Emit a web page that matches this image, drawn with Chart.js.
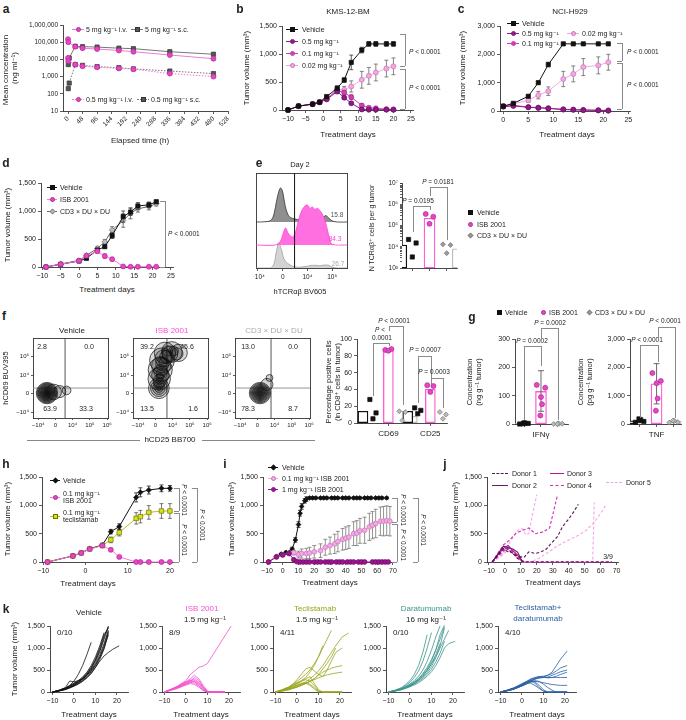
<!DOCTYPE html>
<html><head><meta charset="utf-8">
<script src="https://cdn.jsdelivr.net/npm/chart.js@4.4.1/dist/chart.umd.min.js"></script>
<style>
html,body{margin:0;padding:0;background:#fff}
body{position:relative;width:686px;height:720px;overflow:hidden;font-family:'Liberation Sans','DejaVu Sans',Arial,sans-serif;color:#222}
canvas{position:absolute}
.t{position:absolute;white-space:nowrap;line-height:1}
</style></head><body>
<script>
// ======================= DATA =======================
// a
const aTimeIV=[0.08,1,24,48,96,168,216,336,480];
const aTimeSC=[1,4,24,48,96,168,216,336,480];
const a5iv=[150000,100000,55000,45000,40000,33000,28000,18000,11000];
const a5sc=[5000,12000,58000,55000,52000,45000,42000,28000,20000];
const a05iv=[12000,8000,5000,4000,3500,3000,2700,1500,1000];
const a05sc=[200,420,5000,4500,3800,3300,2800,2100,1500];
const aXTicks=[0,48,96,144,192,240,288,336,384,432,480,528];
const aYTicks=[10,100,1000,10000,100000,1000000];
// shared ticks
const volTicks=[0,500,1000,1500];
const dayTicks=[-10,-5,0,5,10,15,20,25];
// b
const bDays=[-10,-7,-3,-1,1,4,6,8,11,13,15,18,20];
const bVeh=[0,70,105,140,240,390,535,850,1070,1180,1180,1180,1180];
const bVehErr=[0,8,10,12,20,40,40,130,50,40,40,40,40];
const b05=[0,70,105,140,190,330,220,120,10,5,5,5,5];
const b05Err=[0,8,10,12,15,30,30,20,5,3,3,3,3];
const b01=[0,70,105,140,200,350,310,230,80,40,30,15,10];
const b01Err=[0,8,10,12,20,40,40,40,30,20,20,10,10];
const b002=[0,70,105,140,200,370,360,420,540,610,670,740,780];
const b002Err=[0,8,10,12,20,40,60,100,150,150,150,150,150];
// c
const cDays=[0,2,5,7,9,12,14,16,19,21];
const cVeh=[170,270,520,1000,1640,2370,2370,2370,2370,2370];
const cVehErr=[20,30,40,50,80,30,30,30,30,30];
const c05=[150,180,130,110,90,50,40,30,20,10];
const c01=[170,200,140,120,100,60,50,40,30,20];
const c002=[170,250,380,560,700,1130,1310,1550,1610,1720];
const c002Err=[20,40,80,130,150,270,280,300,300,280];
const cYTicks=[0,1000,2000,3000];
// d
const dDays=[-9,-5,0,2,5,7,9,12,14,16,19,21];
const dVeh=[0,48,107,155,303,363,560,900,980,1090,1110,1165];
const dVehErr=[0,10,15,20,30,30,50,100,60,60,50,30];
const dISB=[0,50,110,200,280,195,140,10,5,5,5,5];
const dISBErr=[0,10,10,20,30,40,30,5,0,0,0,0];
const dCD3=[0,55,115,210,330,450,660,830,960,1040,1080,1130];
const dCD3Err=[0,10,15,20,40,40,60,120,100,60,60,40];
// e histogram (x in biexponential display units: -1=-10^4, 0=0, 1=10^4, 2=10^5)
const eHistTicks=[-1,0,1,2];
const eVehX=[-1.08,-0.6,-0.45,-0.35,-0.25,-0.15,-0.08,0,0.1,0.2,0.3,0.5,0.7,0.9,1.1,1.3,1.5,1.65,1.75,1.85,2.0,2.2,2.6];
const eVehH=[0,0.02,0.1,0.35,0.9,1.35,1.48,1.3,0.7,0.35,0.2,0.13,0.1,0.12,0.1,0.12,0.15,0.22,0.28,0.18,0.05,0,0];
const eIsbX=[-1.08,-0.3,-0.1,0.05,0.12,0.2,0.3,0.4,0.5,0.6,0.7,0.8,0.9,1.0,1.1,1.2,1.3,1.4,1.5,1.6,1.7,1.8,1.9,2.0,2.6];
const eIsbH=[0,0,0.15,0.6,0.74,0.55,0.4,0.35,0.5,0.9,1.3,1.55,1.7,1.74,1.6,1.65,1.55,1.6,1.5,1.35,1.1,0.7,0.25,0.03,0];
const eCd3X=[-1.08,-0.5,-0.35,-0.25,-0.16,-0.05,0.05,0.2,0.4,0.6,0.9,1.1,1.3,1.5,1.7,1.85,2.0,2.2,2.6];
const eCd3H=[0,0,0.2,0.75,1.09,0.8,0.4,0.2,0.08,0.03,0.06,0.1,0.12,0.1,0.13,0.12,0.04,0,0];
const eGate=0.48;
const ePct=['15.8','84.3','26.7'];
// e bars
const eGroups=['Vehicle','ISB 2001','CD3 × DU × DU'];
const eMeans=[12000,220000,8000];
const eVehPts=[22000,15000,3300];
const eIsbPts=[350000,260000,120000];
const eCd3Pts=[13000,12000,5000];
const eYTicks=[1e3,2e3,3e3,4e3,5e3,6e3,7e3,8e3,9e3,1e4,2e4,3e4,4e4,5e4,6e4,7e4,8e4,9e4,1e5,2e5,3e5,4e5,5e5,6e5,7e5,8e5,9e5,1e6,2e6,3e6,4e6,5e6,6e6,7e6,8e6,9e6,1e7];
// f contour levels (centre x, centre y, size) in display units
const fVehCX=[-0.49,-0.49,-0.49,-0.5,-0.5,-0.5,-0.5,-0.5,-0.5,-0.5,-0.5,-0.5,-0.5,-0.1,0.25,0.65];
const fVehCY=[0.04,0.04,0.04,0.04,0.03,0.03,0.03,0.02,0.02,0.02,0.02,0.02,0.02,0.1,0.12,0.18];
const fVehCS=[0.62,0.57,0.52,0.47,0.42,0.37,0.32,0.27,0.22,0.17,0.13,0.09,0.05,0.45,0.35,0.25];
const fIsbCX=[0.2,0.2,0.2,0.2,0.2,0.22,0.28,0.38,0.55,0.95,1.35,0.28,0.33,0.48,0.85,1.25,0.25,0.3,0.4,0.6,0.3,0.45,0.7,1.05,0.22,0.26];
const fIsbCY=[0.3,0.3,0.3,0.3,0.3,0.8,1.3,1.8,2.2,2.25,2.2,1.0,1.5,1.9,2.15,2.15,0.7,1.2,1.6,2.0,1.1,1.7,2.3,2.3,0.55,0.9];
const fIsbCS=[0.6,0.48,0.36,0.24,0.12,0.65,0.7,0.72,0.62,0.6,0.5,0.5,0.55,0.5,0.45,0.35,0.38,0.4,0.38,0.35,0.25,0.25,0.3,0.28,0.3,0.22];
const fCd3CX=[0.15,0.15,0.15,0.15,0.15,0.15,0.15,0.15,0.15,0.15,0.55,0.7];
const fCd3CY=[0.04,0.04,0.04,0.04,0.04,0.04,0.04,0.04,0.04,0.04,0.5,0.85];
const fCd3CS=[0.62,0.56,0.5,0.44,0.38,0.32,0.26,0.2,0.14,0.08,0.35,0.2];
const fGateX=[0.56,0.67,0.79];
const fGateY=[0.31,0.31,0.31];
const fQuad=[['2.8','0.0','63.9','33.3'],['39.2','45.6','13.5','1.6'],['13.0','0.0','78.3','8.7']];
const fTitles=['Vehicle','ISB 2001','CD3 × DU × DU'];
const bexTicks=[-1,0,1,2,3];
// f bars (% positive)
const fMarkers=['CD69','CD25'];
const fVehMean=[14,14], fIsbMean=[87,40], fCd3Mean=[8,10];
const fVehPts=[[28,12,5],[18,15,11]];
const fIsbPts=[[87,88,86],[45,44,37]];
const fCd3Pts=[[14,13,3],[13,10,5]];
// g cytokines
const gIFN=[2,115,1], gIFNErr=[0,[70,73],0];
const gIFNVeh=[0,2,4,3,1], gIFNIsb=[138,128,95,70,30], gIFNCd3=[0,1,2,1,0];
const gTNF=[110,1420,90], gTNFErr=[30,710,30];
const gTNFVeh=[60,90,120,150,180], gTNFIsb=[1800,1520,1440,900,470], gTNFCd3=[50,70,100,110,120];
// h
const hDays=[-9,-3,-1,1,4,6,8,12,13,15,18,20];
const hVeh=[0,107,160,235,300,535,625,1140,1230,1270,1300,1300];
const hVehErr=[0,10,15,20,30,40,50,80,80,70,60,50];
const hISB=[0,107,160,230,290,215,90,0,0,0,0,0];
const hISBErr=[0,10,10,20,30,30,20,0,0,0,0,0];
const hTec=[0,107,160,230,290,390,520,770,800,875,900,900];
const hTecErr=[0,10,10,20,30,50,60,100,110,120,130,130];
// i
const iVehDays=[-9,-4,-1,2,6,8,10,11,12,14,15,17,19,21,24,26,28,31,33,35,38,40,42,45,47,49,52,54,56,59,61,63,66];
const iVeh=[0,100,140,170,230,390,660,860,980,1080,1110,1130,1130,1130,1130,1130,1130,1130,1130,1130,1130,1130,1130,1130,1130,1130,1130,1130,1130,1130,1130,1130,1130];
const iVehErr=[0,10,15,20,30,40,50,50,50,40,40,20,20,20,20,20,20,20,20,20,20,20,20,20,20,20,20,20,20,20,20,20,20];
const i01Days=[-9,-4,0,4,7,10,12,15,17,20,24,27,30,33,35,38,40,42,45,47,49,52,55,57,59,62,64,66,68];
const i01=[0,90,125,150,165,130,150,150,160,180,200,260,290,320,360,400,420,440,500,510,550,560,620,650,680,720,720,730,720];
const i01Err=[0,10,20,30,40,60,80,90,100,110,120,140,150,170,180,190,200,200,210,220,220,230,240,240,250,250,260,260,260];
const i1Days=[-9,-4,0,4,7,9,11,13,15,17,20,22,24,27,29,31,34,36,38,41,43,45,48,50,52,57,59,61,63,65,67];
const i1=[0,90,125,150,40,5,0,0,0,0,0,0,0,0,0,0,0,0,0,0,0,0,0,0,0,0,0,0,0,0,0];
const iXTicks=[-10,0,10,20,30,40,50,60,70];
// j (individual mice per donor)
const jD1aDays=[-8,-1,2,5,8,12,15,19,22,26,29,33,36,40,43,46], jD1a=[0,230,180,160,100,80,180,150,170,230,330,450,620,760,880,1020];
const jD1bDays=[-8,-1,2,5,8,12,20,30,40,50,60,67], jD1b=[0,250,220,150,60,0,0,0,0,0,0,0];
const jD2Days=[-8,-1,2,5,8,11], jD2=[0,280,250,230,170,0];
const jD3Days=[-8,-1,2,5,8,11], jD3=[0,240,290,200,120,0];
const jD4aDays=[-8,-1,3,7,11,15,19,24,28,33], jD4a=[0,300,390,510,560,600,500,530,600,1190];
const jD4bDays=[-8,-1,2,5,8,12,20,30,40,50,60,67], jD4b=[0,200,250,180,80,0,0,0,0,0,0,0];
const jD5aDays=[-8,-1,2,5,8,11,13,15,17,20], jD5a=[0,150,300,430,560,590,480,500,800,1190];
const jD5bDays=[-8,-1,2,5,8,11,16,21,26,31,36,41,46,51,56,61,63], jD5b=[0,130,220,150,60,0,0,60,150,250,330,400,470,560,700,900,1000];
const jD5cDays=[-8,-1,2,5,8,11,20,30,40,50,55,56], jD5c=[0,170,260,190,90,0,0,0,0,0,0,1050];
// k spaghetti plots
const kDays=[-10,-7,-4,-2,0,2,4,6,8,10,12,14,16,18,21,24];
const kTicksX=[-10,0,10,20];
const kVehicle=[
 [0,40,90,150,250,400,600,850,1130],
 [0,40,100,250,230,260,300,400,550,750,1000,1300,1450],
 [0,30,80,130,180,240,320,430,560,720,950,1250,1500],
 [0,30,70,120,170,220,290,380,500,650,850,1100,1400],
 [0,35,90,140,200,260,340,450,600,800,1050,1350],
 [0,25,60,100,150,200,270,350,460,600,780,1000,1300],
 [0,30,75,110,160,220,300,400,520,700,920,1200,1480],
 [0,20,55,90,130,180,240,320,420,560,740,980,1350],
 [0,30,80,140,200,240,300,380,480,620,800,1050,1380],
 [0,25,60,100,140,190,250,330,430,560,700,820,900,970,1050]];
const kISB=[
 [0,60,120,180,230,300,380,300,150,20,0,0,0,0],
 [0,50,110,160,200,250,330,260,120,10,0,0,0,0],
 [0,60,120,170,220,260,290,220,100,0,0,0,0,0],
 [0,50,100,140,190,230,260,200,90,0,0,0,0,0],
 [0,40,90,130,170,210,240,180,70,0,0,0,0,0],
 [0,60,130,180,230,270,230,150,50,0,0,0,0,0],
 [0,50,100,150,190,220,200,130,40,0,0,0,0,0],
 [0,40,80,120,160,190,170,110,30,0,0,0,0,0],
 [0,60,130,200,260,400,480,560,590,650,null,null,null,null,1500]];
const kTec=[
 [0,40,90,140,190,250,330,450,600,800,1000,1200,1400],
 [0,30,70,100,140,180,230,300,380,480,600,750,900,1050,1250,1340],
 [0,50,110,170,240,320,400,500,640,800,1050],
 [0,30,60,90,120,160,200,250,300,380,450,500,540,570,600],
 [0,20,50,80,110,150,190,240,280,320,360,390,410,430,450],
 [0,40,100,180,280,400,520,560,480,400,350,500,700,900,1000],
 [0,40,90,140,190,240,280,250,150,30,0,0,0,0,0],
 [0,30,80,120,160,200,220,180,100,10,0,0,0,0,0],
 [0,30,70,110,150,180,200,150,70,0,0,0,0,0,0],
 [0,50,110,160,210,260,300,350,200,50,0,0,0,0,0],
 [0,20,50,80,110,150,190,240,300,400,520,650,800,1000]];
const kDara=[
 [0,40,100,170,260,400,600,900,1300],
 [0,35,90,150,220,330,480,700,1000,1350],
 [0,30,70,120,180,260,360,500,700,950,1250,1500],
 [0,30,70,110,160,220,300,400,520,700,950,1300,1520],
 [0,25,60,100,140,190,260,340,440,580,780,1050,1450],
 [0,30,70,110,150,200,270,360,480,640,850,1100],
 [0,25,55,90,130,180,240,310,400,520,680,880,1150],
 [0,20,50,80,120,160,210,280,360,460,600,780,1000,1100,1150],
 [0,30,70,120,170,230,310,420,560,740,960,1200,1480],
 [0,25,60,100,140,200,280,380,500,650,800,1000,1200,1400]];
const kCombo=[
 [0,30,70,110,150,200,260,300,330,340,380,450,600,750,930],
 [0,35,80,120,170,220,270,320,350,360,380,420,480,550,600],
 [0,25,60,100,140,190,240,290,320,330,340,380,420,460,500],
 [0,40,90,130,180,230,300,330,350,340,320,330,360,400,450],
 [0,30,80,120,160,210,260,300,320,330,330,330,330,330,330],
 [0,30,60,100,140,180,220,240,230,210,190,170,160,150,150],
 [0,40,90,140,190,240,280,200,100,20,0,0,0,0,0],
 [0,30,70,110,160,210,250,230,150,50,0,0,0,0,0],
 [0,35,80,120,170,220,200,150,80,20,0,0,0,0,0],
 [0,25,60,100,140,180,230,260,240,180,100,40,0,0,0]];
const kFractions=['0/10','8/9','4/11','0/10','4/10'];

// ======================= STYLE / HELPERS =======================
const PINK='#e645c3',PINKD='#b22b96',PINKL='#ff72da',PURP='#8e1a88',MAG='#d23fb4',LPINK='#efabdf',LPINKB='#cf6fbd',
      YEL='#d8e21c',OLIVE='#9aa41d',TEAL='#3c948b',BLUE='#2b5fa5';
const SUP={'-':'⁻','0':'⁰','1':'¹','2':'²','3':'³','4':'⁴','5':'⁵','6':'⁶','7':'⁷','8':'⁸','9':'⁹'};
const pow10=v=>{const e=Math.round(Math.log10(v));return Math.abs(Math.log10(v)-e)<1e-9?'10'+String(e).split('').map(c=>SUP[c]).join(''):'';};
const comma=v=>String(v).replace(/\B(?=(\d{3})+(?!\d))/g,',');
const neg=v=>v<0?'−'+(-v):String(v);
const BEX={'-1':'−10⁴','0':'0','1':'10⁴','2':'10⁵','3':'10⁶'};
const bex=v=>BEX[String(v)]||'';
const J3=[-0.22,0.22,0], J5=[-0.25,0.25,0,0.06,-0.04];

function drawErr(chart,i){
  const ds=chart.data.datasets[i],meta=chart.getDatasetMeta(i);
  const ys=chart.scales[meta.yAxisID],ctx=chart.ctx,cap=ds.errCap??2;
  ctx.save();ctx.strokeStyle=ds.errColor||'#444';ctx.lineWidth=0.8;ctx.beginPath();
  meta.data.forEach((el,j)=>{
    const e=ds.err[j];if(!e)return;const v=ds.data[j].y;if(v==null)return;
    const lo=Array.isArray(e)?e[0]:e,hi=Array.isArray(e)?e[1]:e;
    const y1=ys.getPixelForValue(v+hi),y2=ys.getPixelForValue(Math.max(v-lo,ys.min));
    ctx.moveTo(el.x,y1);ctx.lineTo(el.x,y2);ctx.moveTo(el.x-cap,y1);ctx.lineTo(el.x+cap,y1);
    if(v-lo>ys.min){ctx.moveTo(el.x-cap,y2);ctx.lineTo(el.x+cap,y2);}
  });
  ctx.stroke();ctx.restore();
}
Chart.register({id:'errbars',
  beforeDatasetDraw(c,a){const ds=c.data.datasets[a.index];if(ds.err&&!ds.errAfter)drawErr(c,a.index);},
  afterDatasetDraw(c,a){const ds=c.data.datasets[a.index];if(ds.err&&ds.errAfter)drawErr(c,a.index);}});

function ax(pos,min,max,ticks,fmt,o={}){
  return {type:o.type||'linear',position:pos,min,max,offset:false,display:true,
    grid:{display:true,offset:false,drawOnChartArea:false,drawTicks:!!ticks,tickLength:o.tl??3,color:o.c||'#333',lineWidth:0.8},
    border:{display:true,color:o.c||'#333',width:o.bw||0.9},
    ticks:{display:!!ticks&&!o.noLab,autoSkip:false,maxRotation:o.rot||0,minRotation:o.rot||0,padding:o.pad??2,
      font:{size:o.fs||7},color:o.tc||'#222',callback:(v,i)=>fmt?fmt(v,i):v},
    afterBuildTicks:s=>{s.ticks=(ticks||[]).map(v=>({value:v}));}};
}
function mk(box,scales,datasets,o={}){
  const [L,T,R,B]=box,ml=o.ml??30,mb=o.mb??14,mt=o.mt??6,mr=o.mr??8;
  const W=ml+(R-L)+mr,H=mt+(B-T)+mb;
  const c=document.createElement('canvas');c.width=W;c.height=H;
  c.style.left=(L-ml)+'px';c.style.top=(T-mt)+'px';c.style.width=W+'px';c.style.height=H+'px';
  document.body.appendChild(c);
  for(const k in scales){const size=k==='x'?mb:(k==='y'?ml:0);
    scales[k].afterFit=s=>{if(s.isHorizontal())s.height=size;else s.width=size;s.paddingLeft=0;s.paddingRight=0;s.paddingTop=0;s.paddingBottom=0;};}
  return new Chart(c,{type:'scatter',data:{datasets},options:{responsive:false,maintainAspectRatio:false,animation:false,devicePixelRatio:1,events:[],
    layout:{padding:{top:mt,right:mr,left:0,bottom:0}},plugins:{legend:{display:false},tooltip:{enabled:false}},scales}});
}
function S(xs,ys,o={}){
  return {type:'line',data:ys.map((y,i)=>({x:xs[i],y:y===undefined?null:y})),borderColor:o.lc,borderWidth:o.lw??1,borderDash:o.dash||[],
    backgroundColor:o.mf,pointBackgroundColor:o.mf,pointBorderColor:o.mb||o.lc,pointBorderWidth:o.pbw??0.7,pointStyle:o.ps||'circle',
    pointRadius:o.r??2.5,showLine:!o.noLine,err:o.err,errColor:o.ec,errCap:o.cap,clip:false,order:o.order??0,spanGaps:true,tension:o.ten||0,fill:false};
}
function Bar(xs,ys,o={}){
  return {type:'bar',data:ys.map((y,i)=>({x:xs[i],y})),backgroundColor:o.fc||'#fff',borderColor:o.bc,borderWidth:o.bw??1.3,barThickness:o.w??10,
    borderSkipped:false,err:o.err,errColor:o.ec,errCap:o.cap??3,errAfter:true,order:10};
}
function Pts(xc,ys,jit,o){return S(ys.map((_,i)=>xc+jit[i%jit.length]),ys,Object.assign({noLine:true,order:0},o));}
function div(){const d=document.createElement('div');d.style.position='absolute';document.body.appendChild(d);return d;}
function T(s,x,y,o={}){
  const d=document.createElement('div');d.className='t';d.innerHTML=s;
  const a=o.al==='l'?0:(o.al==='r'?-100:-50);
  d.style.left=x+'px';d.style.top=y+'px';d.style.fontSize=(o.fs||7)+'px';d.style.color=o.c||'#222';
  if(o.b)d.style.fontWeight='bold';
  d.style.transform=`translate(${a}%,-50%)`+(o.rot?` rotate(${o.rot}deg)`:'');
  document.body.appendChild(d);return d;
}
function ln(x1,y1,x2,y2,c='#8a8a8a',w=0.8){const d=div();
  d.style.left=Math.min(x1,x2)+'px';d.style.top=Math.min(y1,y2)+'px';
  d.style.width=Math.max(Math.abs(x2-x1),w)+'px';d.style.height=Math.max(Math.abs(y2-y1),w)+'px';d.style.background=c;}
function vbr(x,y1,y2,t=5){ln(x,y1,x,y2);ln(x-t,y1,x,y1);ln(x-t,y2,x,y2);}
function hbr(x1,x2,y,yl,yr){ln(x1,y,x2,y);ln(x1,y,x1,yl);ln(x2,y,x2,yr);}
function leg(x,y,text,o={}){
  const hl=o.ll??6;
  if(o.lc){const d=div();d.style.left=(x-hl)+'px';d.style.top=(y-0.5)+'px';d.style.width=(2*hl)+'px';d.style.height='0';
    d.style.borderTop=`${o.lw||1}px ${o.dash||'solid'} ${o.lc}`;}
  if(o.m){const s=o.ms||5,d=div();d.style.left=(x-s/2)+'px';d.style.top=(y-s/2)+'px';d.style.width=s+'px';d.style.height=s+'px';
    d.style.boxSizing='border-box';d.style.background=o.mf||'#111';d.style.border=`0.8px solid ${o.mb||o.mf||'#111'}`;
    if(o.m==='c')d.style.borderRadius='50%';if(o.m==='d')d.style.transform='rotate(45deg) scale(0.85)';}
  T(text,x+(o.tx??hl+3),y,{al:'l',fs:o.fs||7,c:o.tc});
}
const P='<i>P</i>';

// ======================= PANEL a =======================
T('a',6,9,{b:1,fs:12});
mk([63,25,228,111],{
  x:ax('bottom',-16.5,528,aXTicks,v=>String(v),{rot:45,fs:6.5,pad:1}),
  y:ax('left',10,1e6,aYTicks,comma,{type:'logarithmic',fs:6.5})
},[
  S(aTimeIV,a5iv,{lc:'#f07ad4',mf:PINK,mb:PINKD}),
  S(aTimeIV,a05iv,{lc:'#f07ad4',mf:PINK,mb:PINKD,dash:[1.5,1.5]}),
  S(aTimeSC,a5sc,{lc:'#777',mf:'#555',mb:'#333',ps:'rect',r:3}),
  S(aTimeSC,a05sc,{lc:'#777',mf:'#555',mb:'#333',ps:'rect',r:3,dash:[1.5,1.5]})
],{ml:63,mb:30,mr:12});
T('Mean concentration',6,70,{rot:-90,fs:8});
T('(ng ml⁻¹)',15,68,{rot:-90,fs:8});
T('Elapsed time (h)',140,141,{fs:8});
leg(78,29,'5 mg kg⁻¹ i.v.',{lc:'#f07ad4',m:'c',mf:PINK,mb:PINKD,tx:8});
leg(137,29,'5 mg kg⁻¹ s.c.',{lc:'#777',m:'s',mf:'#555',mb:'#333',tx:8});
leg(78,99,'0.5 mg kg⁻¹ i.v.',{lc:'#f07ad4',dash:'dotted',m:'c',mf:PINK,mb:PINKD,tx:8});
leg(143,99,'0.5 mg kg⁻¹ s.c.',{lc:'#777',dash:'dotted',m:'s',mf:'#555',mb:'#333',tx:8});

// ======================= PANEL b =======================
T('b',240,9,{b:1,fs:12});
mk([282,26,413,110],{
  x:ax('bottom',-11.71,25.57,dayTicks,neg),
  y:ax('left',0,1500,volTicks,comma)
},[
  S(bDays,bVeh,{lc:'#111',mf:'#111',ps:'rect',r:3,err:bVehErr,ec:'#333'}),
  S(bDays,b05,{lc:PURP,mf:PURP,mb:'#5e0f5a',err:b05Err,ec:'#555'}),
  S(bDays,b01,{lc:MAG,mf:MAG,mb:'#a02a88',err:b01Err,ec:'#555'}),
  S(bDays,b002,{lc:LPINK,mf:LPINK,mb:LPINKB,err:b002Err,ec:'#666'})
],{ml:30,mb:14});
T('KMS-12-BM',348,12,{fs:8});
T('Tumor volume (mm³)',247,68,{rot:-90,fs:8});
T('Treatment days',348,135,{fs:8});
leg(292,29,'Vehicle',{lc:'#111',m:'s',mf:'#111',tx:10});
leg(292,41,'0.5 mg kg⁻¹',{lc:PURP,m:'c',mf:PURP,tx:10});
leg(292,53,'0.1 mg kg⁻¹',{lc:MAG,m:'c',mf:MAG,tx:10});
leg(292,65,'0.02 mg kg⁻¹',{lc:LPINK,m:'c',mf:LPINK,mb:LPINKB,tx:10});
vbr(405,34,66);vbr(405,69,109);
T(P+' &lt; 0.0001',409,52,{al:'l',fs:6.5});
T(P+' &lt; 0.0001',409,88,{al:'l',fs:6.5});

// ======================= PANEL c =======================
T('c',461,9,{b:1,fs:12});
mk([500,26,630,111],{
  x:ax('bottom',-0.66,25.34,[0,5,10,15,20,25],neg),
  y:ax('left',0,3000,cYTicks,comma)
},[
  S(cDays,cVeh,{lc:'#111',mf:'#111',ps:'rect',r:3,err:cVehErr,ec:'#333'}),
  S(cDays,c05,{lc:PURP,mf:PURP,mb:'#5e0f5a'}),
  S(cDays,c01,{lc:MAG,mf:MAG,mb:'#a02a88'}),
  S(cDays,c002,{lc:LPINK,mf:LPINK,mb:LPINKB,err:c002Err,ec:'#666'})
],{ml:30,mb:14});
T('NCI-H929',570,12,{fs:8});
T('Tumor volume (mm³)',463,68,{rot:-90,fs:8});
T('Treatment days',567,135,{fs:8});
leg(513,23,'Vehicle',{lc:'#111',m:'s',mf:'#111',tx:9});
leg(513,33,'0.5 mg kg⁻¹',{lc:PURP,m:'c',mf:PURP,tx:9});
leg(513,43,'0.1 mg kg⁻¹',{lc:MAG,m:'c',mf:MAG,tx:9});
leg(573,33,'0.02 mg kg⁻¹',{lc:LPINK,m:'c',mf:LPINK,mb:LPINKB,tx:9});
vbr(622,43,61);vbr(622,63,109);
T(P+' &lt; 0.0001',627,52,{al:'l',fs:6.5});
T(P+' &lt; 0.0001',627,85,{al:'l',fs:6.5});

// ======================= PANEL d =======================
T('d',6,163,{b:1,fs:12});
mk([41,183,173,267],{
  x:ax('bottom',-10.35,25.55,dayTicks,neg),
  y:ax('left',0,1500,volTicks,comma)
},[
  S(dDays,dISB,{lc:PINKL,mf:PINK,mb:PINKD,err:dISBErr,ec:'#777'}),
  S(dDays,dVeh,{lc:'#111',mf:'#111',ps:'rect',r:3,err:dVehErr,ec:'#333'}),
  S(dDays,dCD3,{lc:'#666',mf:'#bbb',mb:'#666',ps:'rectRot',r:2.8,err:dCD3Err,ec:'#555'})
],{ml:30,mb:14});
T('Tumor volume (mm³)',8,225,{rot:-90,fs:8});
T('Treatment days',107,290,{fs:8});
leg(52,187,'Vehicle',{lc:'#111',m:'s',mf:'#111',ll:5,tx:8});
leg(52,199,'ISB 2001',{lc:PINKL,m:'c',mf:PINK,mb:PINKD,ll:5,tx:8});
leg(52,211,'CD3 × DU × DU',{lc:'#666',m:'d',mf:'#bbb',mb:'#666',ll:5,tx:8});
vbr(165,201,267);
T(P+' &lt; 0.0001',168,234,{al:'l',fs:6.5});

// ======================= PANEL e =======================
T('e',259,163,{b:1,fs:12});
const hist=(xs,hs,off,fc,bc)=>({type:'line',data:hs.map((h,i)=>({x:xs[i],y:off+h})),fill:{value:off},backgroundColor:fc,borderColor:bc,
  borderWidth:0.8,pointRadius:0,tension:0.35,clip:true,order:0});
mk([256,173,347,268],{
  x:ax('bottom',-1.08,2.6,eHistTicks,bex,{fs:6.5}),
  y:ax('left',0,4.13,null,null),
  x2:ax('top',-1.08,2.6,null,null),
  y2:ax('right',0,4.13,null,null)
},[
  {type:'line',data:[{x:eGate,y:0},{x:eGate,y:4.13}],borderColor:'#111',borderWidth:1,pointRadius:0,order:-1},
  hist(eIsbX,eIsbH,1,'#ff6fe0','#ff3fd2'),
  hist(eCd3X,eCd3H,0,'#d3d3d3','#a0a0a0'),
  hist(eVehX,eVehH,2,'#8f8f8f','#333')
],{ml:2,mb:14,mt:4,mr:6});
T('Day 2',300,165,{fs:7.5});
T('hTCRαβ BV605',300,292,{fs:7.5});
T(ePct[0],337,215,{fs:6.5,c:'#555'});
T(ePct[1],335,239,{fs:6.5,c:'#ff3fd2'});
T(ePct[2],338,264,{fs:6.5,c:'#aaa'});
mk([402,183,457,268],{
  x:ax('bottom',-0.6,2.6,[0,1,2],()=>''),
  y:ax('left',1e3,1e7,eYTicks,pow10,{type:'logarithmic',fs:6.5,tl:2})
},[
  Pts(0,eVehPts,J3,{mf:'#111',mb:'#111',ps:'rect',r:3}),
  Pts(1,eIsbPts,J3,{mf:PINK,mb:PINKD}),
  Pts(2,eCd3Pts,J3,{mf:'#999',mb:'#777',ps:'rectRot',r:2.5}),
  Bar([0],[eMeans[0]],{bc:'#111',w:11}),
  Bar([1],[eMeans[1]],{bc:'#ff5ad6',w:11}),
  Bar([2],[eMeans[2]],{bc:'#bdbdbd',w:11})
],{ml:20,mb:10});
T('N TCRαβ⁺ cells per g tumor',371,228,{rot:-90,fs:7});
hbr(413,430,206,232,210);T(P+' = 0.0195',418,201,{fs:6.5});
hbr(430,447,187,196,240);T(P+' = 0.0181',438,182,{fs:6.5});
leg(470,212,eGroups[0],{m:'s',mf:'#111',tx:7});
leg(470,224,eGroups[1],{m:'c',mf:PINK,mb:PINKD,tx:7});
leg(470,235,eGroups[2],{m:'d',mf:'#999',mb:'#777',tx:7});

// ======================= PANEL f =======================
T('f',4,316,{b:1,fs:12});
const ring=(cx,cy,cs)=>({type:'scatter',data:cx.map((x,i)=>({x,y:cy[i],s:cs[i]})),pointStyle:'circle',
  pointBackgroundColor:'rgba(0,0,0,0.16)',pointBorderColor:'#111',pointBorderWidth:0.7,clip:true,order:1,
  pointRadius:ctx=>{const sc=ctx.chart.scales.x,r=ctx.raw&&ctx.raw.s;return r?Math.abs(sc.getPixelForValue(r)-sc.getPixelForValue(0)):0;}});
const FX0=-1.3,FX1=3.05,FY0=-1.3,FY1=3.0;
const contourSets=[[fVehCX,fVehCY,fVehCS],[fIsbCX,fIsbCY,fIsbCS],[fCd3CX,fCd3CY,fCd3CS]];
const fLefts=[33,133,235];
const fTitleCol=['#222','#ff4fd3','#aaa'];
const quadPos=[[[9,56],[17,53]],[[14,54],[14,60]],[[13,58],[13,58]]];
fLefts.forEach((L,p)=>{
  const [cx,cy,cs]=contourSets[p];
  mk([L,338,L+75,418],{
    x:ax('bottom',FX0,FX1,bexTicks,bex,{fs:6,tl:2}),
    y:ax('left',FY0,FY1,bexTicks.slice(0,4),bex,{fs:6,tl:2}),
    x2:ax('top',FX0,FX1,null,null),
    y2:ax('right',FY0,FY1,null,null)
  },[
    {type:'line',data:[{x:fGateX[p],y:FY0},{x:fGateX[p],y:FY1}],borderColor:'#444',borderWidth:0.9,pointRadius:0,order:2},
    {type:'line',data:[{x:FX0,y:fGateY[p]},{x:FX1,y:fGateY[p]}],borderColor:'#888',borderWidth:0.9,pointRadius:0,order:2},
    ring(cx,cy,cs)
  ],{ml:18,mb:12,mt:4,mr:5});
  T(fTitles[p],L+39,331,{fs:8,c:fTitleCol[p]});
  const q=fQuad[p],qp=quadPos[p];
  T(q[0],L+qp[0][0],346,{fs:7});T(q[1],L+qp[0][1],346,{fs:7});
  T(q[2],L+qp[1][0],408,{fs:7});T(q[3],L+qp[1][1],408,{fs:7});
});
T('hCD69 BUV395',6,378,{rot:-90,fs:7.5});
ln(27,440,140,440,'#888');ln(202,440,315,440,'#888');
T('hCD25 BB700',170,440,{fs:8});
// f bars
const fPos=[[0,1.1,2.1],[3.2,4.1,5]];
const fDs=[];
fPos.forEach((g,m)=>{
  fDs.push(Pts(g[0],fVehPts[m],J3,{mf:'#111',mb:'#111',ps:'rect',r:3}));
  fDs.push(Pts(g[1],fIsbPts[m],J3,{mf:PINK,mb:PINKD}));
  fDs.push(Pts(g[2],fCd3Pts[m],J3,{mf:'#bbb',mb:'#777',ps:'rectRot',r:2.5}));
});
fDs.push(Bar([fPos[0][0],fPos[1][0]],fVehMean,{bc:'#111',w:10}));
fDs.push(Bar([fPos[0][1],fPos[1][1]],fIsbMean,{bc:'#ff5ad6',w:10}));
fDs.push(Bar([fPos[0][2],fPos[1][2]],fCd3Mean,{bc:'#bdbdbd',w:10}));
mk([357,339,447,423],{
  x:ax('bottom',-1.14,5.29,[1.1,4.1],(v,i)=>fMarkers[i],{fs:8,pad:3}),
  y:ax('left',0,100,[0,20,40,60,80,100],comma)
},fDs,{ml:22,mb:18});
T('Percentage positive cells',329,382,{rot:-90,fs:7.5});
T('(in CD8⁺ cells in tumor)',338,382,{rot:-90,fs:7.5});
hbr(389,403,326,331,405);T(P+' &lt; 0.0001',394,321,{fs:6.5});
hbr(373,389,343,396,346);T(P+' &lt;',380,330,{fs:6.5});T('0.0001',382,337.5,{fs:6.5});
hbr(418,431,356,403,380);T(P+' = 0.0007',425,350,{fs:6.5});
hbr(431,443,378,384,408);T(P+' = 0.0003',434,372,{fs:6.5});

// ======================= PANEL g =======================
T('g',472,317,{b:1,fs:12});
leg(499,312,'Vehicle',{m:'s',mf:'#111',tx:6});
leg(543,312,'ISB 2001',{m:'c',mf:PINK,mb:PINKD,tx:6});
leg(589,312,'CD3 × DU × DU',{m:'d',mf:'#999',mb:'#777',tx:6});
mk([515,339,568,424],{
  x:ax('bottom',-0.53,2.59,[0,1,2],v=>v===1?'IFNγ':'',{fs:8,pad:3}),
  y:ax('left',0,300,[0,100,200,300],comma)
},[
  Pts(0,gIFNVeh,J5,{mf:'#111',mb:'#111',ps:'rect',r:3}),
  Pts(1,gIFNIsb,J5,{mf:PINK,mb:PINKD}),
  Pts(2,gIFNCd3,J5,{mf:'#bbb',mb:'#777',ps:'rectRot',r:2.5}),
  Bar([0],[gIFN[0]],{bc:'#111',w:11}),
  Bar([1],[gIFN[1]],{bc:'#ff5ad6',w:11,err:[gIFNErr[1]],ec:'#444'}),
  Bar([2],[gIFN[2]],{bc:'#bdbdbd',w:11})
],{ml:24,mb:18});
T('Concentration',470,382,{rot:-90,fs:7.5});
T('(ng g⁻¹ tumor)',479,382,{rot:-90,fs:7.5});
hbr(524,541,346,420,366);T(P+' = 0.0002',532,341,{fs:6.5});
hbr(541,558,328,340,420);T(P+' = 0.0002',550,323,{fs:6.5});
mk([630,339,683,424],{
  x:ax('bottom',-0.57,2.46,[0,1,2],v=>v===1?'TNF':'',{fs:8,pad:3}),
  y:ax('left',0,3000,cYTicks,comma)
},[
  Pts(0,gTNFVeh,J5,{mf:'#111',mb:'#111',ps:'rect',r:3}),
  Pts(1,gTNFIsb,J5,{mf:PINK,mb:PINKD}),
  Pts(2,gTNFCd3,J5,{mf:'#bbb',mb:'#777',ps:'rectRot',r:2.5}),
  Bar([0],[gTNF[0]],{bc:'#111',w:11}),
  Bar([1],[gTNF[1]],{bc:'#ff5ad6',w:11,err:[gTNFErr[1]],ec:'#444'}),
  Bar([2],[gTNF[2]],{bc:'#bdbdbd',w:11})
],{ml:26,mb:18,mr:3});
T('Concentration',581,382,{rot:-90,fs:7.5});
T('(pg g⁻¹ tumor)',590,382,{rot:-90,fs:7.5});
hbr(640,658,345,418,362);T(P+' &lt; 0.0001',647,340,{fs:6.5});
hbr(658,675,327,340,418);T(P+' &lt; 0.0001',665,321,{fs:6.5});

// ======================= PANEL h =======================
T('h',6,464,{b:1,fs:12});
mk([42,477,173,562],{
  x:ax('bottom',-10.31,20.73,[-10,0,10,20],neg),
  y:ax('left',0,1500,volTicks,comma)
},[
  S(hDays,hISB,{lc:PINKL,mf:PINK,mb:PINKD,err:hISBErr,ec:'#777'}),
  S(hDays,hVeh,{lc:'#111',mf:'#111',ps:'rectRot',r:2.6,err:hVehErr,ec:'#222'}),
  S(hDays,hTec,{lc:'#b5bf10',mf:YEL,mb:'#6c7400',ps:'rect',r:3.2,err:hTecErr,ec:'#555'})
],{ml:30,mb:14});
T('Tumor volume (mm³)',8,519,{rot:-90,fs:8});
T('Treatment days',88,584,{fs:8});
leg(55,480,'Vehicle',{lc:'#111',m:'d',mf:'#111',ll:5,tx:8});
leg(55,497,'0.1 mg kg⁻¹<br>ISB 2001',{lc:PINKL,m:'c',mf:PINK,mb:PINKD,ll:5,tx:8});
leg(55,516,'0.1 mg kg⁻¹<br>teclistamab',{lc:'#b5bf10',m:'s',mf:YEL,mb:'#6c7400',ll:5,tx:8});
vbr(179,488,511);vbr(179,513,562);vbr(197,488,562);
T(P+' &lt; 0.0001',184,500,{rot:90,fs:6.5});
T(P+' &lt; 0.0001',184,540,{rot:90,fs:6.5});
T(P+' &lt; 0.0001',202,525,{rot:90,fs:6.5});

// ======================= PANEL i =======================
T('i',225,464,{b:1,fs:12});
mk([263,477,395,562],{
  x:ax('bottom',-12.54,71.27,iXTicks,neg),
  y:ax('left',0,1500,volTicks,comma)
},[
  S(i1Days,i1,{lc:PURP,mf:'#9c1590',mb:'#6e0c66',r:2.4}),
  S(i01Days,i01,{lc:LPINK,mf:LPINK,mb:LPINKB,r:2.4,err:i01Err,ec:'#777'}),
  S(iVehDays,iVeh,{lc:'#111',mf:'#111',ps:'rectRot',r:2.4,err:iVehErr,ec:'#222'})
],{ml:30,mb:14});
T('Tumor volume (mm³)',232,519,{rot:-90,fs:8});
T('Treatment days',330,583,{fs:8});
leg(273,467,'Vehicle',{lc:'#111',m:'d',mf:'#111',ll:5,tx:9});
leg(273,478,'0.1 mg kg⁻¹ ISB 2001',{lc:LPINK,m:'c',mf:LPINK,mb:LPINKB,ll:5,tx:9});
leg(273,489,'1 mg kg⁻¹ ISB 2001',{lc:PURP,m:'c',mf:'#9c1590',ll:5,tx:9});
vbr(397,498,522);vbr(397,524,562);vbr(418,498,562);
T(P+' &lt; 0.0001',403,510,{rot:90,fs:6.5});
T(P+' &lt; 0.0001',403,545,{rot:90,fs:6.5});
T(P+' &lt; 0.0001',423,530,{rot:90,fs:6.5});

// ======================= PANEL j =======================
T('j',445,464,{b:1,fs:12});
const D1C='#5d1452',D2C='#6d1a63',D3C='#b3179d',D4C='#d02db8',D5C='#f5a6e3';
mk([487,477,618,562],{
  x:ax('bottom',-11.25,70.88,iXTicks,neg),
  y:ax('left',0,1500,volTicks,comma)
},[
  S(jD1aDays,jD1a,{lc:D1C,r:0,lw:1.1,dash:[3,2]}),
  S(jD1bDays,jD1b,{lc:D1C,r:0,lw:1.1,dash:[3,2]}),
  S(jD2Days,jD2,{lc:D2C,r:0,lw:1.1}),
  S(jD3Days,jD3,{lc:D3C,r:0,lw:1.1}),
  S(jD4aDays,jD4a,{lc:D4C,r:0,lw:1.1,dash:[3,2]}),
  S(jD4bDays,jD4b,{lc:D4C,r:0,lw:1.6,dash:[3,2]}),
  S(jD5aDays,jD5a,{lc:D5C,r:0,lw:1.1,dash:[3,2]}),
  S(jD5bDays,jD5b,{lc:D5C,r:0,lw:1.1,dash:[3,2]}),
  S(jD5cDays,jD5c,{lc:D5C,r:0,lw:1.1,dash:[3,2]})
],{ml:30,mb:14});
T('Tumor volume (mm³)',456,519,{rot:-90,fs:8});
T('Treatment days',553,583,{fs:8});
T('3/9',608,556,{fs:7});
leg(500,473,'Donor 1',{lc:D1C,dash:'dashed',ll:8,lw:1.2,tx:12});
leg(500,485,'Donor 2',{lc:D2C,ll:8,lw:1.2,tx:12});
leg(557,473,'Donor 3',{lc:D3C,ll:7,lw:1.2,tx:10});
leg(557,485,'Donor 4',{lc:D4C,dash:'dashed',ll:7,lw:1.2,tx:10});
leg(614,482,'Donor 5',{lc:D5C,dash:'dashed',ll:8,lw:1.2,tx:12});

// ======================= PANEL k =======================
T('k',6,609,{b:1,fs:12});
const kSets=[kVehicle,kISB,kTec,kDara,kCombo];
const kCols=['#111','#f452cf',OLIVE,TEAL,BLUE];
const kLefts=[50,162,273,386,498];
kLefts.forEach((L,p)=>{
  mk([L,626,L+78,692],{
    x:ax('bottom',-11.16,25.12,kTicksX,neg),
    y:ax('left',0,1500,volTicks,comma)
  },kSets[p].map(v=>S(kDays,v,{lc:kCols[p],r:0,lw:0.8})),{ml:30,mb:14});
  T('Treatment days',L+39,715,{fs:8});
  T(kFractions[p],L+7,633,{al:'l',fs:8});
});
T('Tumor volume (mm³)',15,659,{rot:-90,fs:8});
T('Vehicle',89,613,{fs:8});
T('ISB 2001',202,609,{fs:8,c:'#f452cf'});T('1.5 mg kg⁻¹',205,620,{fs:8});
T('Teclistamab',315,609,{fs:8,c:OLIVE});T('1.5 mg kg⁻¹',317,620,{fs:8});
T('Daratumumab',426,609,{fs:8,c:TEAL});T('16 mg kg⁻¹',426,620,{fs:8});
T('Teclistamab+',538,608,{fs:8,c:BLUE});T('daratumumab',538,619,{fs:8,c:BLUE});
</script></body></html>
